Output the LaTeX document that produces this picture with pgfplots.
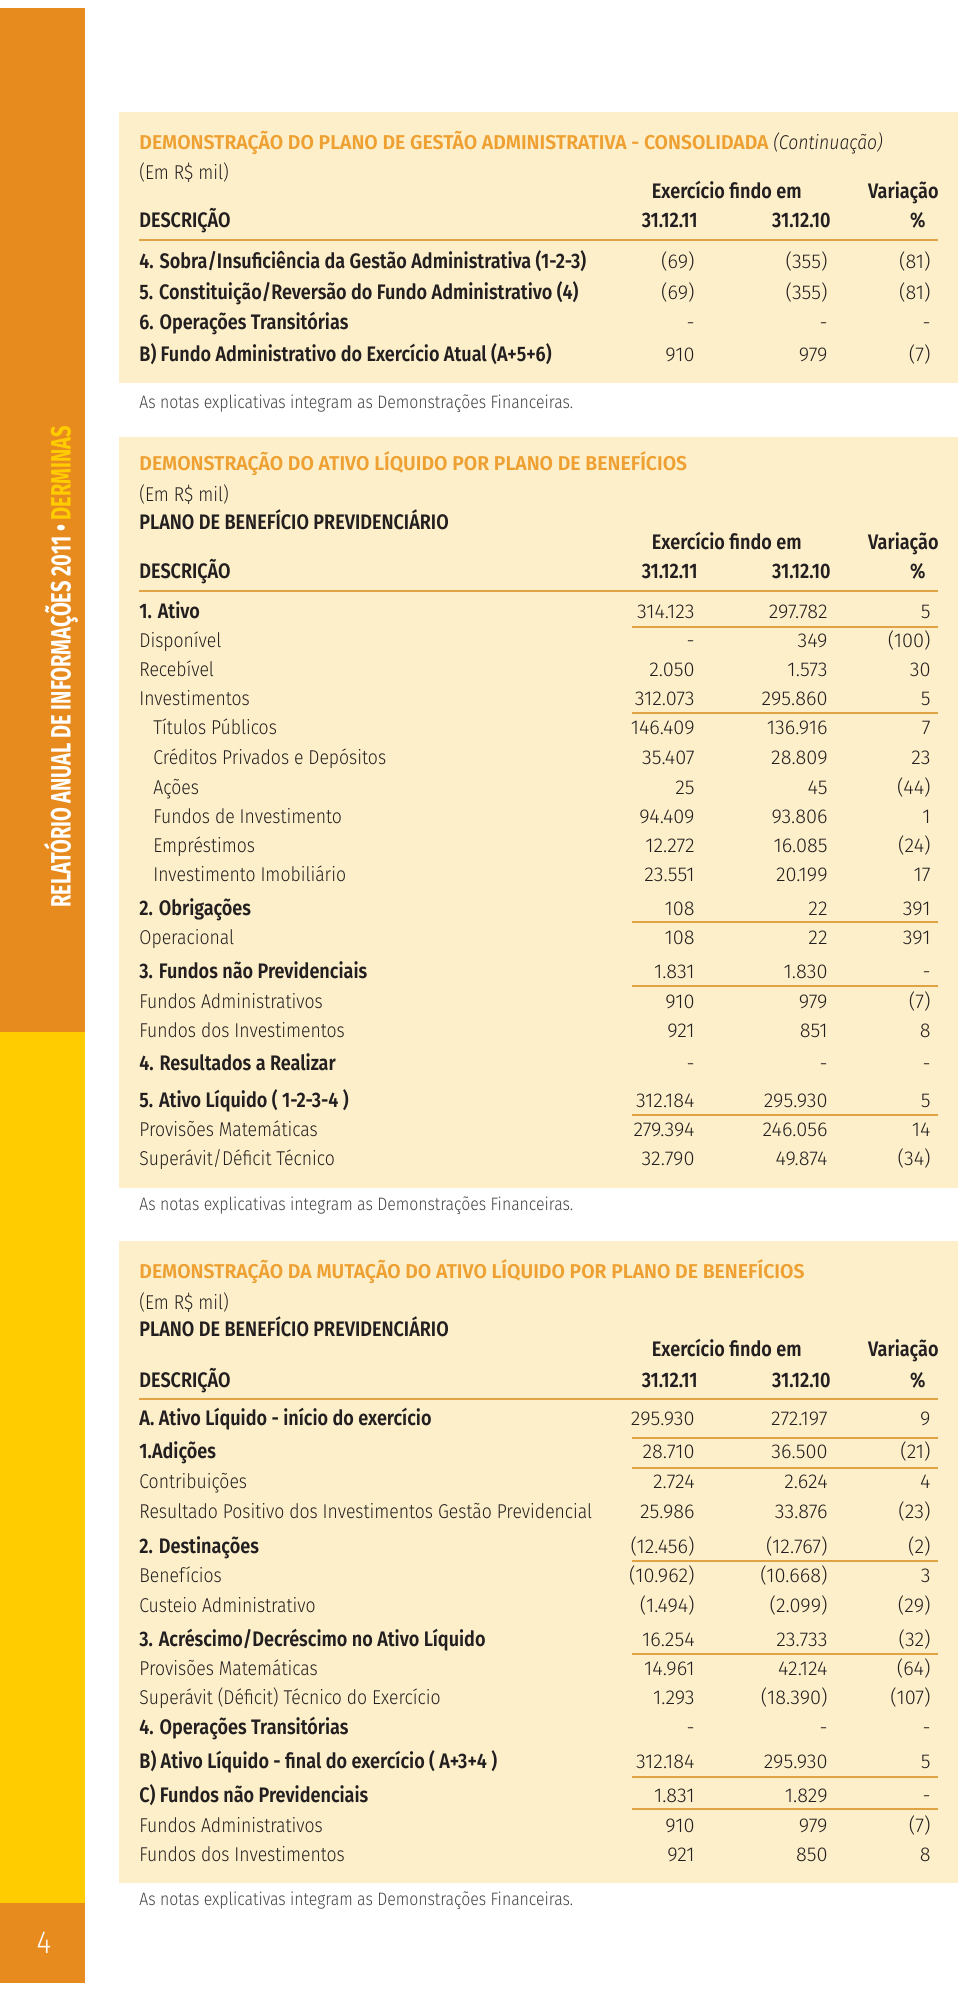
\documentclass[border=0pt]{standalone}
\usepackage{fontspec}
\setmainfont{Fira Sans Light}[FakeStretch=0.88, BoldFont={Fira Sans SemiBold}, BoldFeatures={Scale=1.05, FakeStretch=0.86}]
\newfontfamily\numfont{Fira Sans Light}[FakeStretch=1.0]
\newfontfamily\ttlfont{Fira Sans SemiBold}[FakeStretch=0.97]
\newfontfamily\stripfont{Fira Sans Bold}[FakeStretch=0.715]
\usepackage{pgfplots}
\usepackage{pgfplotstable}
\pgfplotsset{compat=1.18}

\definecolor{strip}{RGB}{232,139,30}
\definecolor{stripy}{RGB}{255,204,0}
\definecolor{panel}{RGB}{253,239,201}
\definecolor{ttl}{RGB}{238,160,50}
\definecolor{rule}{RGB}{226,163,70}
\definecolor{ink}{RGB}{35,31,32}

\newcommand{\body}{\fontsize{10bp}{12bp}\selectfont}
\newcommand{\nums}{\numfont\fontsize{10bp}{12bp}\selectfont}

% panel 1: plano de gestao administrativa
\pgfplotstableread[col sep=semicolon, row sep=\\]{
y;lab;a;b;c\\
269;\textbf{4. Sobra/Insuficiência da Gestão Administrativa (1-2-3)};(69);(355);(81)\\
300;\textbf{5. Constituição/Reversão do Fundo Administrativo (4)};(69);(355);(81)\\
330;\textbf{6. Operações Transitórias};-;-;-\\
362;\textbf{B) Fundo Administrativo do Exercício Atual (A+5+6)};910;979;(7)\\
}\tabA

% panel 2: ativo liquido
\pgfplotstableread[col sep=semicolon, row sep=\\]{
y;lx;lab;a;b;c\\
618;139;\textbf{1. Ativo};314.123;297.782;5\\
647;139;Disponível;-;349;(100)\\
676;139;Recebível;2.050;1.573;30\\
705;139;Investimentos;312.073;295.860;5\\
734;153;Títulos Públicos;146.409;136.916;7\\
764;153;Créditos Privados e Depósitos;35.407;28.809;23\\
794;153;Ações;25;45;(44)\\
823;153;Fundos de Investimento;94.409;93.806;1\\
852;153;Empréstimos;12.272;16.085;(24)\\
881;153;Investimento Imobiliário;23.551;20.199;17\\
915;139;\textbf{2. Obrigações};108;22;391\\
944;139;Operacional;108;22;391\\
978;139;\textbf{3. Fundos não Previdenciais};1.831;1.830;-\\
1008;139;Fundos Administrativos;910;979;(7)\\
1037;139;Fundos dos Investimentos;921;851;8\\
1070;139;\textbf{4. Resultados a Realizar};-;-;-\\
1107;139;\textbf{5. Ativo Líquido ( 1-2-3-4 )};312.184;295.930;5\\
1136;139;Provisões Matemáticas;279.394;246.056;14\\
1165;139;Superávit/Déficit Técnico;32.790;49.874;(34)\\
}\tabB

% panel 3: mutacao do ativo liquido
\pgfplotstableread[col sep=semicolon, row sep=\\]{
y;lab;a;b;c\\
1425;\textbf{A. Ativo Líquido - início do exercício};295.930;272.197;9\\
1458;\textbf{1.Adições};28.710;36.500;(21)\\
1488;Contribuições;2.724;2.624;4\\
1518;Resultado Positivo dos Investimentos Gestão Previdencial;25.986;33.876;(23)\\
1553;\textbf{2. Destinações};(12.456);(12.767);(2)\\
1582;Benefícios;(10.962);(10.668);3\\
1612;Custeio Administrativo;(1.494);(2.099);(29)\\
1646;\textbf{3. Acréscimo/Decréscimo no Ativo Líquido};16.254;23.733;(32)\\
1675;Provisões Matemáticas;14.961;42.124;(64)\\
1704;Superávit (Déficit) Técnico do Exercício;1.293;(18.390);(107)\\
1734;\textbf{4. Operações Transitórias};-;-;-\\
1768;\textbf{B) Ativo Líquido - final do exercício ( A+3+4 )};312.184;295.930;5\\
1802;\textbf{C) Fundos não Previdenciais};1.831;1.829;-\\
1832;Fundos Administrativos;910;979;(7)\\
1861;Fundos dos Investimentos;921;850;8\\
}\tabC

\pgfplotsset{
  cell/.style={draw=none, nodes near coords, point meta=explicit symbolic,
    nodes near coords align={anchor=base east},
    every node near coord/.append style={inner sep=0pt, font=\nums, text=ink}},
  lcell/.style={cell, nodes near coords align={anchor=base west},
    every node near coord/.append style={font=\body}},
}

\newcommand{\heads}[2]{%
  \node[anchor=base east, inner sep=0pt, font=\body\bfseries, text=ink] at (axis cs:802,#1) {Exercício findo em};
  \node[anchor=base east, inner sep=0pt, font=\body\bfseries, text=ink] at (axis cs:939,#1) {Variação};
  \node[anchor=base west, inner sep=0pt, font=\body\bfseries, text=ink] at (axis cs:139,#2) {DESCRIÇÃO};
  \node[anchor=base east, inner sep=0pt, font=\body\bfseries, text=ink] at (axis cs:698,#2) {31.12.11};
  \node[anchor=base east, inner sep=0pt, font=\body\bfseries, text=ink] at (axis cs:831,#2) {31.12.10};
  \node[anchor=base east, inner sep=0pt, font=\body\bfseries, text=ink] at (axis cs:926,#2) {\%};
}
\newcommand{\ttlnode}[2]{\node[anchor=base west, inner sep=0pt, font=\ttlfont\fontsize{10bp}{12bp}\selectfont, text=ttl] at (axis cs:139,#1) {#2};}
\newcommand{\txt}[2]{\node[anchor=base west, inner sep=0pt, font=\body, text=ink] at (axis cs:139,#1) {#2};}
\newcommand{\note}[1]{\node[anchor=base west, inner sep=0pt, font=\fontsize{9bp}{11bp}\selectfont, text=ink!85] at (axis cs:139,#1) {As notas explicativas integram as Demonstrações Financeiras.};}
\newcommand{\subline}[1]{\draw[rule, line width=1bp] (axis cs:632,#1) -- (axis cs:938,#1);}
\newcommand{\headline}[1]{\draw[rule, line width=1bp] (axis cs:139,#1) -- (axis cs:938,#1);}

\begin{document}
\begin{tikzpicture}
\begin{axis}[
    width=480bp, height=996.5bp, scale only axis,
    xmin=0, xmax=960, ymin=0, ymax=1993, y dir=reverse,
    hide axis, clip=false
]
% page, side strip and panels
\fill[white] (axis cs:0,0) rectangle (axis cs:960,1993);
\fill[strip] (axis cs:0,8) rectangle (axis cs:85,1032);
\fill[stripy] (axis cs:0,1032) rectangle (axis cs:85,1903);
\fill[strip] (axis cs:0,1903) rectangle (axis cs:85,1983);
\fill[panel] (axis cs:119,112) rectangle (axis cs:958,383);
\fill[panel] (axis cs:119,437) rectangle (axis cs:958,1188);
\fill[panel] (axis cs:119,1241) rectangle (axis cs:958,1883);

\node[rotate=90, inner sep=0pt, text=white, font=\stripfont\fontsize{14bp}{16bp}\selectfont]
  at (axis cs:61,667) {RELATÓRIO ANUAL DE INFORMAÇÕES 2011 \textbullet{} \textcolor{stripy}{DERMINAS}};
\node[inner sep=0pt, text=white, font=\fontsize{16bp}{18bp}\selectfont] at (axis cs:44,1943) {4};

% panel 1
\ttlnode{150}{DEMONSTRAÇÃO DO PLANO DE GESTÃO ADMINISTRATIVA - CONSOLIDADA \textcolor{ink}{\normalfont\itshape(Continuação)}}
\txt{180}{(Em R\$ mil)}
\heads{199}{228}
\headline{240}
\addplot[lcell] table[x expr=139, y=y, meta=lab] {\tabA};
\addplot[cell] table[x expr=695, y=y, meta=a] {\tabA};
\addplot[cell] table[x expr=828, y=y, meta=b] {\tabA};
\addplot[cell] table[x expr=931, y=y, meta=c] {\tabA};
\note{409}

% panel 2
\ttlnode{470}{DEMONSTRAÇÃO DO ATIVO LÍQUIDO POR PLANO DE BENEFÍCIOS}
\txt{501}{(Em R\$ mil)}
\node[anchor=base west, inner sep=0pt, font=\body\bfseries, text=ink] at (axis cs:139,529) {PLANO DE BENEFÍCIO PREVIDENCIÁRIO};
\heads{549}{578}
\headline{591}
\addplot[lcell] table[x=lx, y=y, meta=lab] {\tabB};
\addplot[cell] table[x expr=695, y=y, meta=a] {\tabB};
\addplot[cell] table[x expr=828, y=y, meta=b] {\tabB};
\addplot[cell] table[x expr=931, y=y, meta=c] {\tabB};
\subline{627}\subline{713}\subline{922}\subline{986}\subline{1115}
\note{1210}

% panel 3
\ttlnode{1278}{DEMONSTRAÇÃO DA MUTAÇÃO DO ATIVO LÍQUIDO POR PLANO DE BENEFÍCIOS}
\txt{1309}{(Em R\$ mil)}
\node[anchor=base west, inner sep=0pt, font=\body\bfseries, text=ink] at (axis cs:139,1336) {PLANO DE BENEFÍCIO PREVIDENCIÁRIO};
\heads{1356}{1387}
\headline{1399}
\addplot[lcell] table[x expr=139, y=y, meta=lab] {\tabC};
\addplot[cell] table[x expr=695, y=y, meta=a] {\tabC};
\addplot[cell] table[x expr=828, y=y, meta=b] {\tabC};
\addplot[cell] table[x expr=931, y=y, meta=c] {\tabC};
\subline{1438}\subline{1468}\subline{1561}\subline{1654}\subline{1777}\subline{1809}
\note{1905}
\end{axis}
\end{tikzpicture}
\end{document}
